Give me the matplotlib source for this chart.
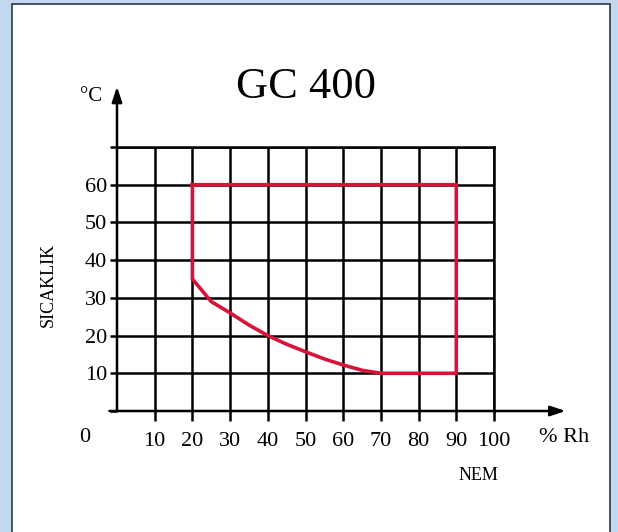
import matplotlib
matplotlib.use("Agg")
import matplotlib.pyplot as plt
from matplotlib.patches import Rectangle

plt.rcParams['font.family'] = ['Liberation Serif', 'DejaVu Serif']

# envelope of the operating range
nem = [20, 90, 90, 70, 65, 60, 55, 50, 45, 40, 35, 30, 25, 20, 20]
sicaklik = [60, 60, 10, 10, 10.8, 12.2, 13.8, 15.7, 17.7, 20, 22.8, 26, 29, 35, 60]

x_ticks = [10, 20, 30, 40, 50, 60, 70, 80, 90, 100]
y_ticks = [0, 10, 20, 30, 40, 50, 60, 70]
y_labels = ['', '10', '20', '30', '40', '50', '60', '']

W, H = 618, 532
fig = plt.figure(figsize=(W / 100, H / 100), dpi=100)
fig.patch.set_facecolor('#c2d8ee')

# white panel
fig.patches.append(Rectangle((12 / W, -0.01), 598 / W, (H - 4) / H + 0.01,
                             transform=fig.transFigure, facecolor='white',
                             edgecolor='#2b3a48', lw=1.2, zorder=-5))

ax = fig.add_axes([117 / W, (H - 411) / H, 377 / W, 264 / H])
ax.set_zorder(2)
ax.set_facecolor('none')
ax.set_xlim(0, 100)
ax.set_ylim(0, 70)

lw = 1.8
ax.set_xticks(x_ticks)
ax.set_xticklabels([str(v) for v in x_ticks])
ax.set_yticks(y_ticks)
ax.set_yticklabels(y_labels)
ax.tick_params(axis='x', length=7, width=lw, direction='out', pad=8, labelsize=16)
ax.tick_params(axis='y', length=5, width=lw, direction='out', pad=2, labelsize=16)
ax.grid(True, color='black', lw=lw)

for side in ['left', 'bottom']:
    ax.spines[side].set_visible(False)
for side in ['right', 'top']:
    ax.spines[side].set_linewidth(lw)

# axis arrows
ax.annotate('', xy=(119, 0), xytext=(-2, 0), annotation_clip=False,
            arrowprops=dict(arrowstyle='-|>,head_length=0.9,head_width=0.3',
                            color='black', lw=lw, shrinkA=0, shrinkB=0))
ax.annotate('', xy=(0, 86), xytext=(0, 0), annotation_clip=False,
            arrowprops=dict(arrowstyle='-|>,head_length=0.9,head_width=0.3',
                            color='black', lw=lw, shrinkA=0, shrinkB=0))

ax.plot(nem, sicaklik, color='#d8133a', lw=2.6, zorder=5, clip_on=False,
        solid_joinstyle='round')

ax.text(50, 86, 'GC 400', fontsize=32, ha='center', va='center')
ax.text(-6.9, 83.5, '°C', fontsize=15, ha='center', va='center')
ax.text(-8.5, -7, '0', fontsize=16, ha='center', va='center')
ax.text(118.5, -7, '% Rh', fontsize=16, ha='center', va='center')
ax.text(96, -17, 'NEM', fontsize=13, ha='center', va='center')
ax.text(-18.3, 33.5, 'SICAKLIK', fontsize=13, rotation=90, ha='center', va='center')

fig.savefig('out.png', dpi=100)
